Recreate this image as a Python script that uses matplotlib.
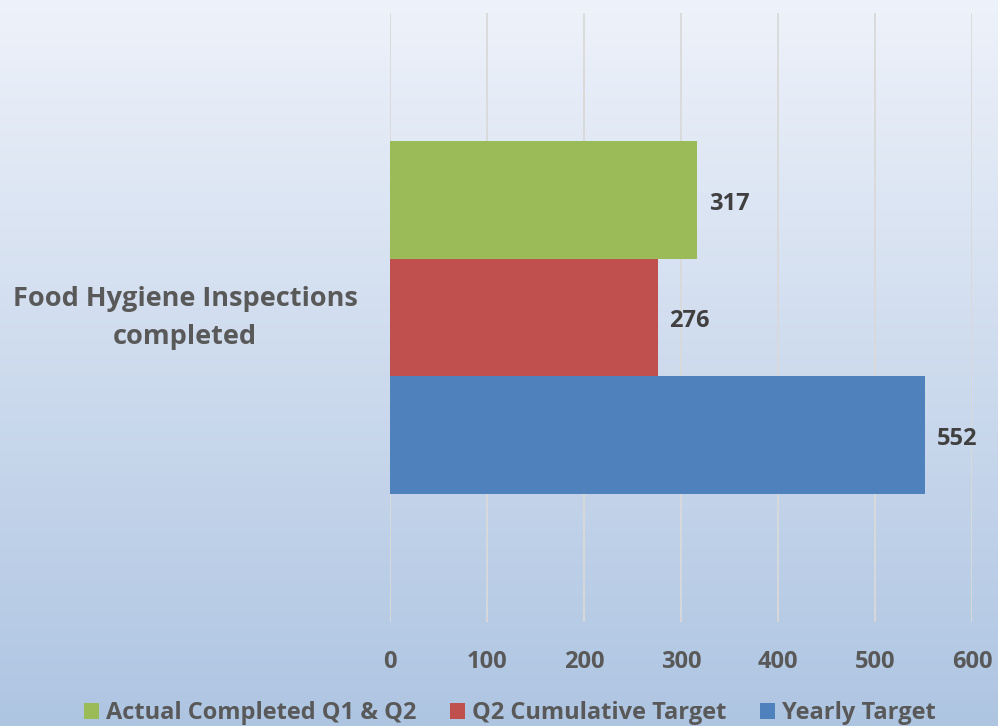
import numpy as np
import matplotlib
matplotlib.use("Agg")
import matplotlib.pyplot as plt
from matplotlib.patches import Patch

category = "Food Hygiene Inspections\ncompleted"
series_names = ["Actual Completed Q1 & Q2", "Q2 Cumulative Target", "Yearly Target"]
series_values = [317, 276, 552]
series_colors = ["#9BBB59", "#C0504D", "#4F81BD"]
x_ticks = [0, 100, 200, 300, 400, 500, 600]

plt.rcParams["font.family"] = ["Open Sans", "DejaVu Sans"]
plt.rcParams["font.weight"] = "bold"

W, H = 998, 726
fig = plt.figure(figsize=(W / 100, H / 100), dpi=100)

# vertical gradient background over the whole figure
bg = fig.add_axes([0, 0, 1, 1], zorder=-10)
top = np.array([238, 242, 250]) / 255
bot = np.array([174, 197, 226]) / 255
t = np.linspace(0, 1, 256)[:, None]
grad = top[None, None, :] * (1 - t[..., None]) + bot[None, None, :] * t[..., None]
grad = np.repeat(grad, 4, axis=1)
bg.imshow(grad, aspect="auto", extent=[0, 1, 0, 1], origin="upper")
bg.set_axis_off()

x0, x1 = 390 / W, 972 / W
y_top, y_bot = 13 / H, 622 / H
ax = fig.add_axes([x0, 1 - y_bot, x1 - x0, y_bot - y_top])
ax.patch.set_alpha(0)

bar_h = 117.5 / 609
centers = [0.5 + bar_h, 0.5, 0.5 - bar_h]
for name, v, c, yc in zip(series_names, series_values, series_colors, centers):
    ax.barh(yc, v, height=bar_h, color=c, zorder=3)
    ax.text(v + 12, yc - 0.006, str(v), va="center", ha="left", fontsize=17,
            fontweight="bold", color="#404040")

ax.set_xlim(0, 600)
ax.set_ylim(0, 1)
ax.set_xticks(x_ticks)
ax.set_xticklabels([str(x) for x in x_ticks], fontsize=17, fontweight="bold", color="#595959")
ax.tick_params(axis="x", length=0, pad=20)
ax.set_yticks([])
ax.grid(axis="x", color="#D9D9D9", linewidth=1.3, zorder=0)
for s in ax.spines.values():
    s.set_visible(False)

fig.text(185 / W, 1 - 318 / H, category, ha="center", va="center", fontsize=19.5,
         fontweight="bold", color="#595959", linespacing=1.55)

handles = [Patch(facecolor=c, label=n) for n, c in zip(series_names, series_colors)]
fig.legend(handles=handles, loc="center", bbox_to_anchor=(510 / W, 1 - 713 / H), ncol=3,
           frameon=False, handlelength=0.65, handleheight=0.65,
           handletextpad=0.3, columnspacing=1.4, labelcolor="#595959",
           prop={"weight": "bold", "size": 17})

fig.savefig("out.png", dpi=100)
